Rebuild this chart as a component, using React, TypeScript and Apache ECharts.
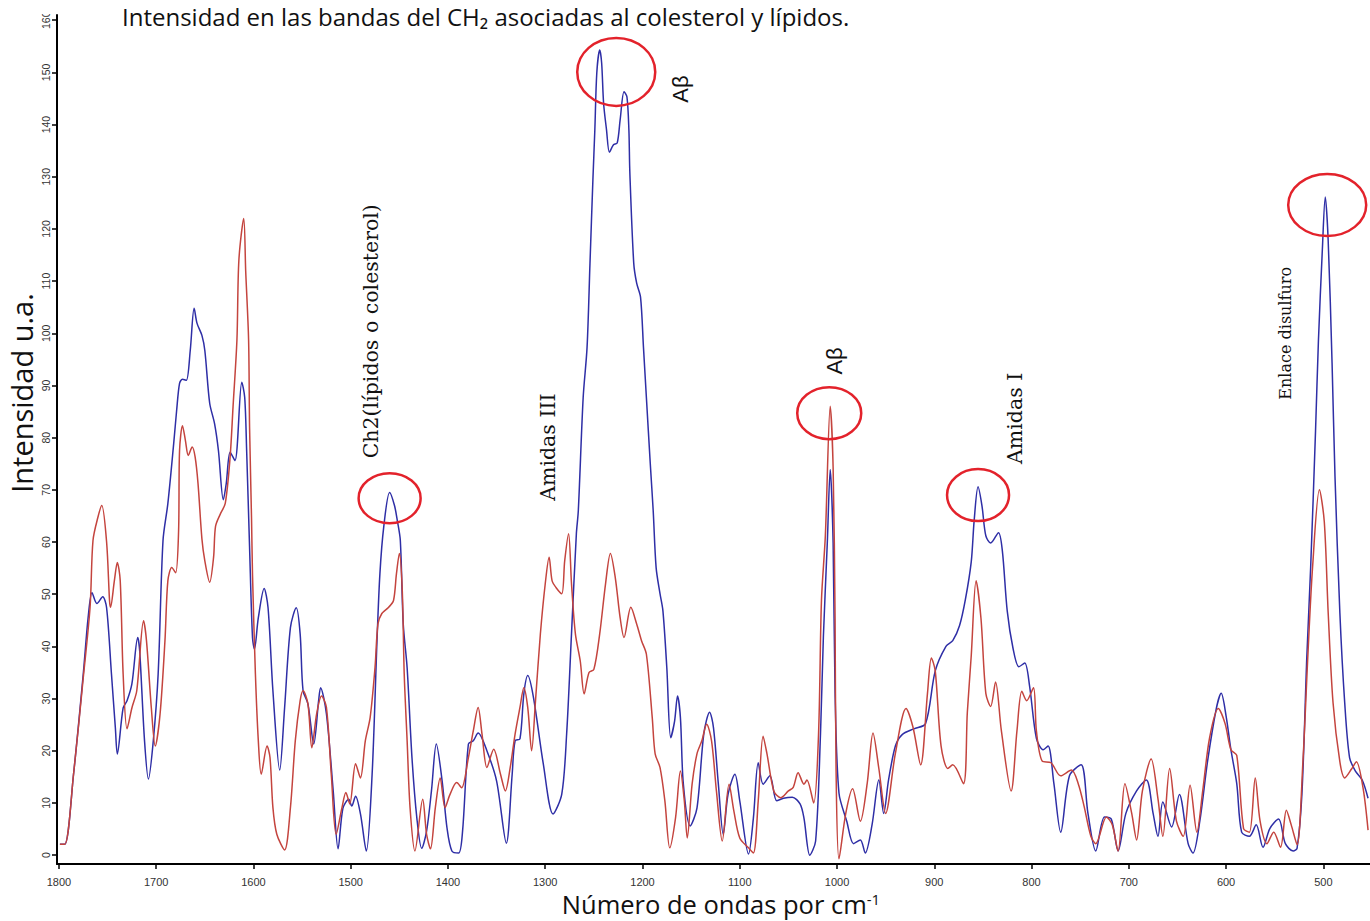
import React, { useEffect, useRef } from "react";
import * as echarts from "echarts";

// wavenumber (cm-1), intensity (u.a.)
const blueSeries: [number, number][] = [
  [1799, 2.1], [1794, 2.1], [1785, 15.5], [1775, 34.7], [1770, 45.5], [1766, 50.3], [1761, 48.2],
  [1755, 49.5], [1751, 47.4], [1746, 34.7], [1742, 24.4], [1740, 19.4], [1734, 28.2], [1730, 29.6],
  [1725, 32.8], [1719, 41.7], [1717, 39.2], [1712, 21.9], [1708, 14.6], [1703, 21.9], [1698, 34.7],
  [1693, 60.3], [1688, 67.4], [1682, 78.9], [1679, 85.2], [1676, 90.4], [1673, 91.2], [1669, 91],
  [1665, 96.7], [1661, 104.8], [1658, 101.9], [1653, 99.6], [1650, 96.7], [1645, 86.6], [1640, 82.7],
  [1636, 77.5], [1631, 68.1], [1628, 71.2], [1624, 77.2], [1619, 75.6], [1612, 90.6], [1609, 87.7],
  [1607, 77.5], [1604, 59], [1601, 41.7], [1599, 39.5], [1595, 45.5], [1589, 51.1], [1585, 47.4],
  [1580, 31.5], [1573, 16.3], [1568, 28.2], [1562, 43.6], [1556, 47.4], [1552, 42.4], [1549, 31.5],
  [1544, 29], [1538, 21.3], [1533, 29.6], [1531, 32.1], [1525, 27.1], [1518, 12.3], [1513, 1.2],
  [1508, 9], [1502, 10.7], [1499, 9.4], [1495, 11.3], [1490, 7.9], [1484, 0.8], [1478, 15.5],
  [1473, 41], [1470, 53.9], [1466, 63], [1460, 69.5], [1455, 67], [1452, 64], [1449, 60.3],
  [1446, 44.3], [1442, 35.9], [1437, 18.6], [1432, 7.1], [1427, 1.3], [1422, 4.6], [1417, 12.3],
  [1412, 21.3], [1406, 14.2], [1401, 5.2], [1396, 0.8], [1389, 0.4], [1385, 4.6], [1379, 21.3],
  [1374, 21.9], [1369, 23.4], [1360, 20], [1350, 14.2], [1340, 2.3], [1334, 15.5], [1331, 21.9],
  [1326, 22.3], [1322, 30.9], [1318, 34.4], [1312, 30.1], [1302, 17.5], [1292, 7.9], [1283, 11.7],
  [1278, 23.2], [1273, 42.4], [1268, 61.6], [1266, 66], [1261, 87.7], [1257, 97.3], [1254, 113.4],
  [1251, 129.4], [1249, 139], [1247, 149.9], [1244, 154.3], [1242, 151.8], [1240, 144.1], [1237, 139],
  [1234, 134.7], [1230, 136.1], [1226, 136.5], [1223, 140.9], [1219, 146.3], [1216, 145.3], [1214, 139],
  [1213, 130.7], [1209, 113.4], [1206, 109.6], [1202, 106.9], [1199, 97.3], [1196, 87.7], [1192, 75],
  [1189, 66], [1186, 55.1], [1182, 50.1], [1179, 46.8], [1175, 35.9], [1171, 22.5], [1167, 25.7],
  [1164, 30.5], [1161, 26.3], [1158, 13.6], [1151, 5.6], [1144, 9], [1137, 23.2], [1131, 27.4],
  [1127, 24.4], [1122, 13.6], [1117, 4], [1112, 11.7], [1105, 15.5], [1100, 10.4], [1091, 0.2],
  [1086, 7.1], [1081, 17.7], [1076, 13.6], [1069, 15.2], [1062, 10.4], [1055, 10.9], [1046, 11.1],
  [1038, 9.8], [1034, 7.1], [1028, 0], [1022, 2.7], [1017, 23.2], [1014, 42], [1010, 59.8],
  [1007, 73.9], [1004, 59.8], [1002, 31], [998, 11.9], [990, 6.5], [983, 2.2], [976, 2.9],
  [971, 0.4], [964, 5.8], [957, 14.4], [952, 8], [947, 14.4], [940, 20.9], [933, 23.1], [921, 24.2],
  [909, 25.2], [899, 35.3], [888, 40], [881, 41.1], [874, 44], [868, 49], [862, 56.2], [859, 64.1],
  [855, 70.6], [851, 67], [847, 61.2], [842, 59.8], [834, 61.8], [830, 58.3], [825, 46.8], [819, 39.6],
  [813, 36.1], [807, 36.8], [802, 32.4], [795, 22.4], [788, 20.2], [783, 20.9], [777, 13.7], [770, 4.4],
  [761, 15.2], [749, 17.3], [742, 8], [734, 0.8], [725, 7.3], [718, 6.9], [711, 0.8], [703, 8],
  [692, 12.3], [682, 14.4], [675, 8], [670, 3.6], [665, 10.2], [656, 5.4], [648, 11.6], [639, 2.2],
  [634, 0.4], [627, 6.5], [619, 18], [610, 28.1], [605, 31], [600, 26.7], [595, 20.2], [589, 13.7],
  [584, 4.4], [576, 3.6], [569, 5.8], [562, 1.5], [555, 5.1], [546, 6.9], [539, 2.2], [531, 0.8],
  [527, 1.3], [522, 11.7], [517, 37.8], [513, 55.2], [508, 81.3], [505, 98.7], [501, 116], [498, 126.1],
  [495, 117.8], [491, 94.3], [488, 72.6], [483, 46.5], [478, 29.2], [473, 18.7], [467, 16.1],
  [460, 14.4], [454, 10.9],
];

const redSeries: [number, number][] = [
  [1799, 2.1], [1794, 2.1], [1785, 15.5], [1775, 34], [1768, 47.5], [1765, 60.3], [1760, 64.7],
  [1756, 67], [1751, 60], [1748, 48.8], [1747, 47.5], [1743, 52.6], [1740, 56.1], [1737, 52.6],
  [1734, 34.7], [1730, 24.2], [1725, 28.2], [1720, 31.5], [1713, 44.9], [1710, 41.1], [1705, 28.2],
  [1701, 20.9], [1696, 27.1], [1691, 41.1], [1688, 52.6], [1684, 55.1], [1680, 54.1], [1677, 62],
  [1676, 77.5], [1673, 82.3], [1670, 79.5], [1667, 76.6], [1663, 78.2], [1660, 76.3], [1657, 71.2],
  [1653, 60.6], [1650, 56.4], [1645, 52.3], [1641, 57.1], [1639, 63], [1634, 65.4], [1629, 67.4],
  [1624, 76.3], [1621, 85.9], [1617, 98.7], [1615, 114], [1610, 122], [1608, 112], [1605, 98.7],
  [1604, 82], [1602, 64.7], [1601, 53.9], [1598, 34.7], [1595, 21.9], [1592, 15.5], [1586, 20.9],
  [1583, 18.7], [1580, 9.1], [1576, 4], [1568, 1], [1562, 9.1], [1557, 21.9], [1552, 29.6],
  [1549, 31.5], [1544, 29], [1540, 20.6], [1535, 27.1], [1530, 30.5], [1525, 28.3], [1520, 15.5],
  [1515, 4], [1509, 9.1], [1505, 12], [1501, 9.8], [1495, 17.5], [1490, 14.8], [1485, 21.9],
  [1480, 26.4], [1475, 36], [1472, 44.3], [1468, 46.3], [1461, 47.5], [1456, 48.8], [1453, 53.9],
  [1450, 57.8], [1447, 50.7], [1445, 34.7], [1442, 21.9], [1439, 9.1], [1434, 0.8], [1426, 10.7],
  [1422, 4], [1418, 1.2], [1413, 9.1], [1408, 14.8], [1403, 9.1], [1398, 11.6], [1391, 13.9],
  [1386, 12.9], [1379, 18.7], [1374, 23.8], [1369, 28.3], [1365, 23.2], [1360, 16.8], [1353, 20.3],
  [1346, 15.5], [1341, 12.3], [1336, 16.8], [1331, 23.2], [1326, 28.3], [1322, 32.1], [1318, 28.3],
  [1314, 20], [1310, 29.6], [1305, 42.4], [1300, 52], [1296, 57.1], [1293, 52.6], [1289, 51.3],
  [1283, 50.1], [1280, 56.4], [1276, 61.6], [1273, 52], [1269, 42.4], [1264, 37.2], [1260, 30.9],
  [1255, 35], [1250, 35.6], [1244, 42.4], [1238, 52], [1233, 57.8], [1228, 53.2], [1223, 45.5],
  [1219, 41.7], [1212, 47.5], [1206, 44.3], [1201, 41.1], [1196, 38.5], [1190, 26.4], [1187, 19.4],
  [1182, 16.8], [1177, 10.4], [1172, 1.4], [1166, 7.2], [1161, 16.1], [1157, 10.4], [1154, 3.3],
  [1149, 13.6], [1144, 19.4], [1139, 21.9], [1134, 25.1], [1129, 21.9], [1124, 12.3], [1118, 2.7],
  [1111, 13.6], [1106, 8.4], [1100, 3.3], [1091, 1.4], [1086, 0.4], [1081, 10.4], [1076, 22.8],
  [1072, 19.4], [1065, 12.3], [1058, 11], [1050, 12.3], [1045, 13], [1040, 15.8], [1034, 13.6],
  [1031, 14.4], [1024, 10], [1019, 23.2], [1016, 48.8], [1012, 61.2], [1007, 86], [1004, 74.2],
  [1002, 45.4], [1001, 16.6], [998, -0.7], [991, 8], [984, 12.7], [976, 6.5], [969, 13.7],
  [963, 23.4], [957, 16.6], [950, 8], [940, 19.5], [929, 28.1], [922, 24.6], [914, 17.3], [907, 31],
  [903, 37.8], [899, 35.3], [893, 20.9], [886, 16.6], [881, 17.3], [870, 13.7], [866, 27.4],
  [862, 38.2], [857, 52.6], [852, 45.4], [847, 31], [842, 28.5], [837, 33.2], [831, 23.8], [821, 12.3],
  [815, 23.8], [810, 31.4], [805, 29.6], [798, 32.1], [795, 23.8], [789, 18], [780, 17.7], [770, 15.2],
  [759, 16.3], [752, 13.7], [746, 9.4], [739, 3.6], [734, 2.2], [723, 7.3], [717, 5.8], [711, 0.8],
  [704, 13.7], [697, 8], [692, 2.9], [686, 12.3], [677, 18.4], [670, 10.8], [665, 3.6], [658, 16.6],
  [651, 6.5], [644, 3.6], [637, 13.4], [630, 4.4], [624, 12.3], [617, 22.4], [608, 28.1], [601, 25.2],
  [595, 20.2], [589, 19.1], [582, 5.1], [576, 4.4], [570, 14.8], [565, 6.5], [558, 2.2], [551, 4.4],
  [544, 1.5], [538, 8.6], [533, 5.8], [527, 2], [521, 17.8], [516, 37.8], [511, 55.3], [504, 70],
  [499, 63.9], [495, 46.5], [490, 29.2], [483, 17.9], [478, 14.8], [471, 16.5], [466, 17.9],
  [459, 12.7], [454, 4.8],
];

const xTickValues = [1800, 1700, 1600, 1500, 1400, 1300, 1200, 1100, 1000, 900, 800, 700, 600, 500];
const yTickValues = [0, 10, 20, 30, 40, 50, 60, 70, 80, 90, 100, 110, 120, 130, 140, 150, 160];

// annotation anchors in data coordinates [wavenumber, intensity]
const circleAnchors: [number, number][] = [[1227, 150.1], [1460, 68.4], [1008, 84.7], [855, 69], [496, 124.6]];
const labelTexts = ["Ch2(lípidos o colesterol)", "Amidas III", "Aβ", "Aβ", "Amidas I", "Enlace disulfuro"];
const labelAnchors: [number, number][] = [[1479, 100.4], [1297, 78.2], [1161, 146.8], [1003, 94.7], [817, 83.7], [539, 100]];

export default function App() {
  const ref = useRef<HTMLDivElement>(null);
  useEffect(() => {
    document.body.style.margin = "0";
    const chart = echarts.init(ref.current!, null, { renderer: "svg" });
    chart.setOption({
      animation: false,
      backgroundColor: "#ffffff",
      grid: { left: 57, right: 0, top: 15, bottom: 57, containLabel: false },
      xAxis: {
        type: "value",
        inverse: true,
        min: 452,
        max: 1802,
        axisLine: { show: true, onZero: false, lineStyle: { color: "#000", width: 2 } },
        axisTick: { show: true, customValues: xTickValues, length: 5, lineStyle: { color: "#000", width: 1.5 } },
        axisLabel: {
          customValues: xTickValues,
          formatter: (v: number) => String(v),
          fontSize: 11,
          color: "#333",
          fontFamily: "Liberation Sans",
          margin: 12,
        },
        splitLine: { show: false },
      },
      yAxis: {
        type: "value",
        min: -1.7,
        max: 161,
        axisLine: { show: true, onZero: false, lineStyle: { color: "#000", width: 2 } },
        axisTick: { show: true, customValues: yTickValues, length: 5, lineStyle: { color: "#000", width: 1.5 } },
        axisLabel: {
          customValues: yTickValues,
          formatter: (v: number) => String(v),
          rotate: 90,
          fontSize: 10.5,
          color: "#333",
          fontFamily: "Liberation Sans",
          margin: 6,
        },
        splitLine: { show: false },
      },
      series: [
        {
          type: "line",
          data: blueSeries,
          showSymbol: false,
          symbol: "none",
          smooth: 0.3,
          lineStyle: { color: "#2e2ea6", width: 1.5 },
          z: 2,
        },
        {
          type: "line",
          data: redSeries,
          showSymbol: false,
          symbol: "none",
          smooth: 0.3,
          lineStyle: { color: "#c4443e", width: 1.5 },
          z: 3,
        },
      ],
    });

    const toPx = (p: [number, number]) => chart.convertToPixel({ gridIndex: 0 }, p) as number[];
    const radii = [[39, 34], [31, 25], [32, 26], [31, 26], [39, 31]];
    const ellipses = circleAnchors.map((a, i) => {
      const [cx, cy] = toPx(a);
      return {
        type: "ellipse",
        shape: { cx, cy, rx: radii[i][0], ry: radii[i][1] },
        style: { fill: "none", stroke: "#e3222b", lineWidth: 2.5 },
        z: 10,
      };
    });
    const fonts = [
      "20.5px 'DejaVu Serif'",
      "20.5px 'DejaVu Serif'",
      "22px 'Liberation Sans'",
      "22px 'Liberation Sans'",
      "20.5px 'DejaVu Serif'",
      "16px 'DejaVu Serif'",
    ];
    const labels = labelAnchors.map((a, i) => {
      const [x, y] = toPx(a);
      return {
        type: "text",
        x,
        y,
        rotation: Math.PI / 2,
        style: { text: labelTexts[i], font: fonts[i], fill: "#111", align: "center", verticalAlign: "middle" },
        z: 10,
      };
    });

    chart.setOption({
      graphic: [
        ...ellipses,
        ...labels,
        {
          type: "rect",
          shape: { x: 0, y: 0, width: 900, height: 14 },
          style: { fill: "#ffffff" },
          z: 20,
        },
        {
          type: "text",
          x: 122,
          y: 4,
          style: {
            text: "Intensidad en las bandas del CH₂ asociadas al colesterol y lípidos.",
            font: "24px 'Open Sans'",
            fill: "#111",
            align: "left",
            verticalAlign: "top",
          },
          z: 21,
        },
        {
          type: "text",
          x: 21,
          y: 393,
          rotation: Math.PI / 2,
          style: {
            text: "Intensidad u.a.",
            font: "29px 'Open Sans'",
            fill: "#111",
            align: "center",
            verticalAlign: "middle",
          },
          z: 21,
        },
        {
          type: "text",
          x: 721,
          y: 904,
          style: {
            text: "Número de ondas por cm{sup|-1}",
            font: "25.5px 'Open Sans'",
            fill: "#111",
            align: "center",
            verticalAlign: "middle",
            rich: {
              sup: { fontSize: 15, fontFamily: "Open Sans", verticalAlign: "top", padding: [0, 0, 11, 0] },
            },
          },
          z: 21,
        },
      ],
    });

    return () => chart.dispose();
  }, []);
  return <div ref={ref} style={{ width: 1370, height: 921 }} />;
}
